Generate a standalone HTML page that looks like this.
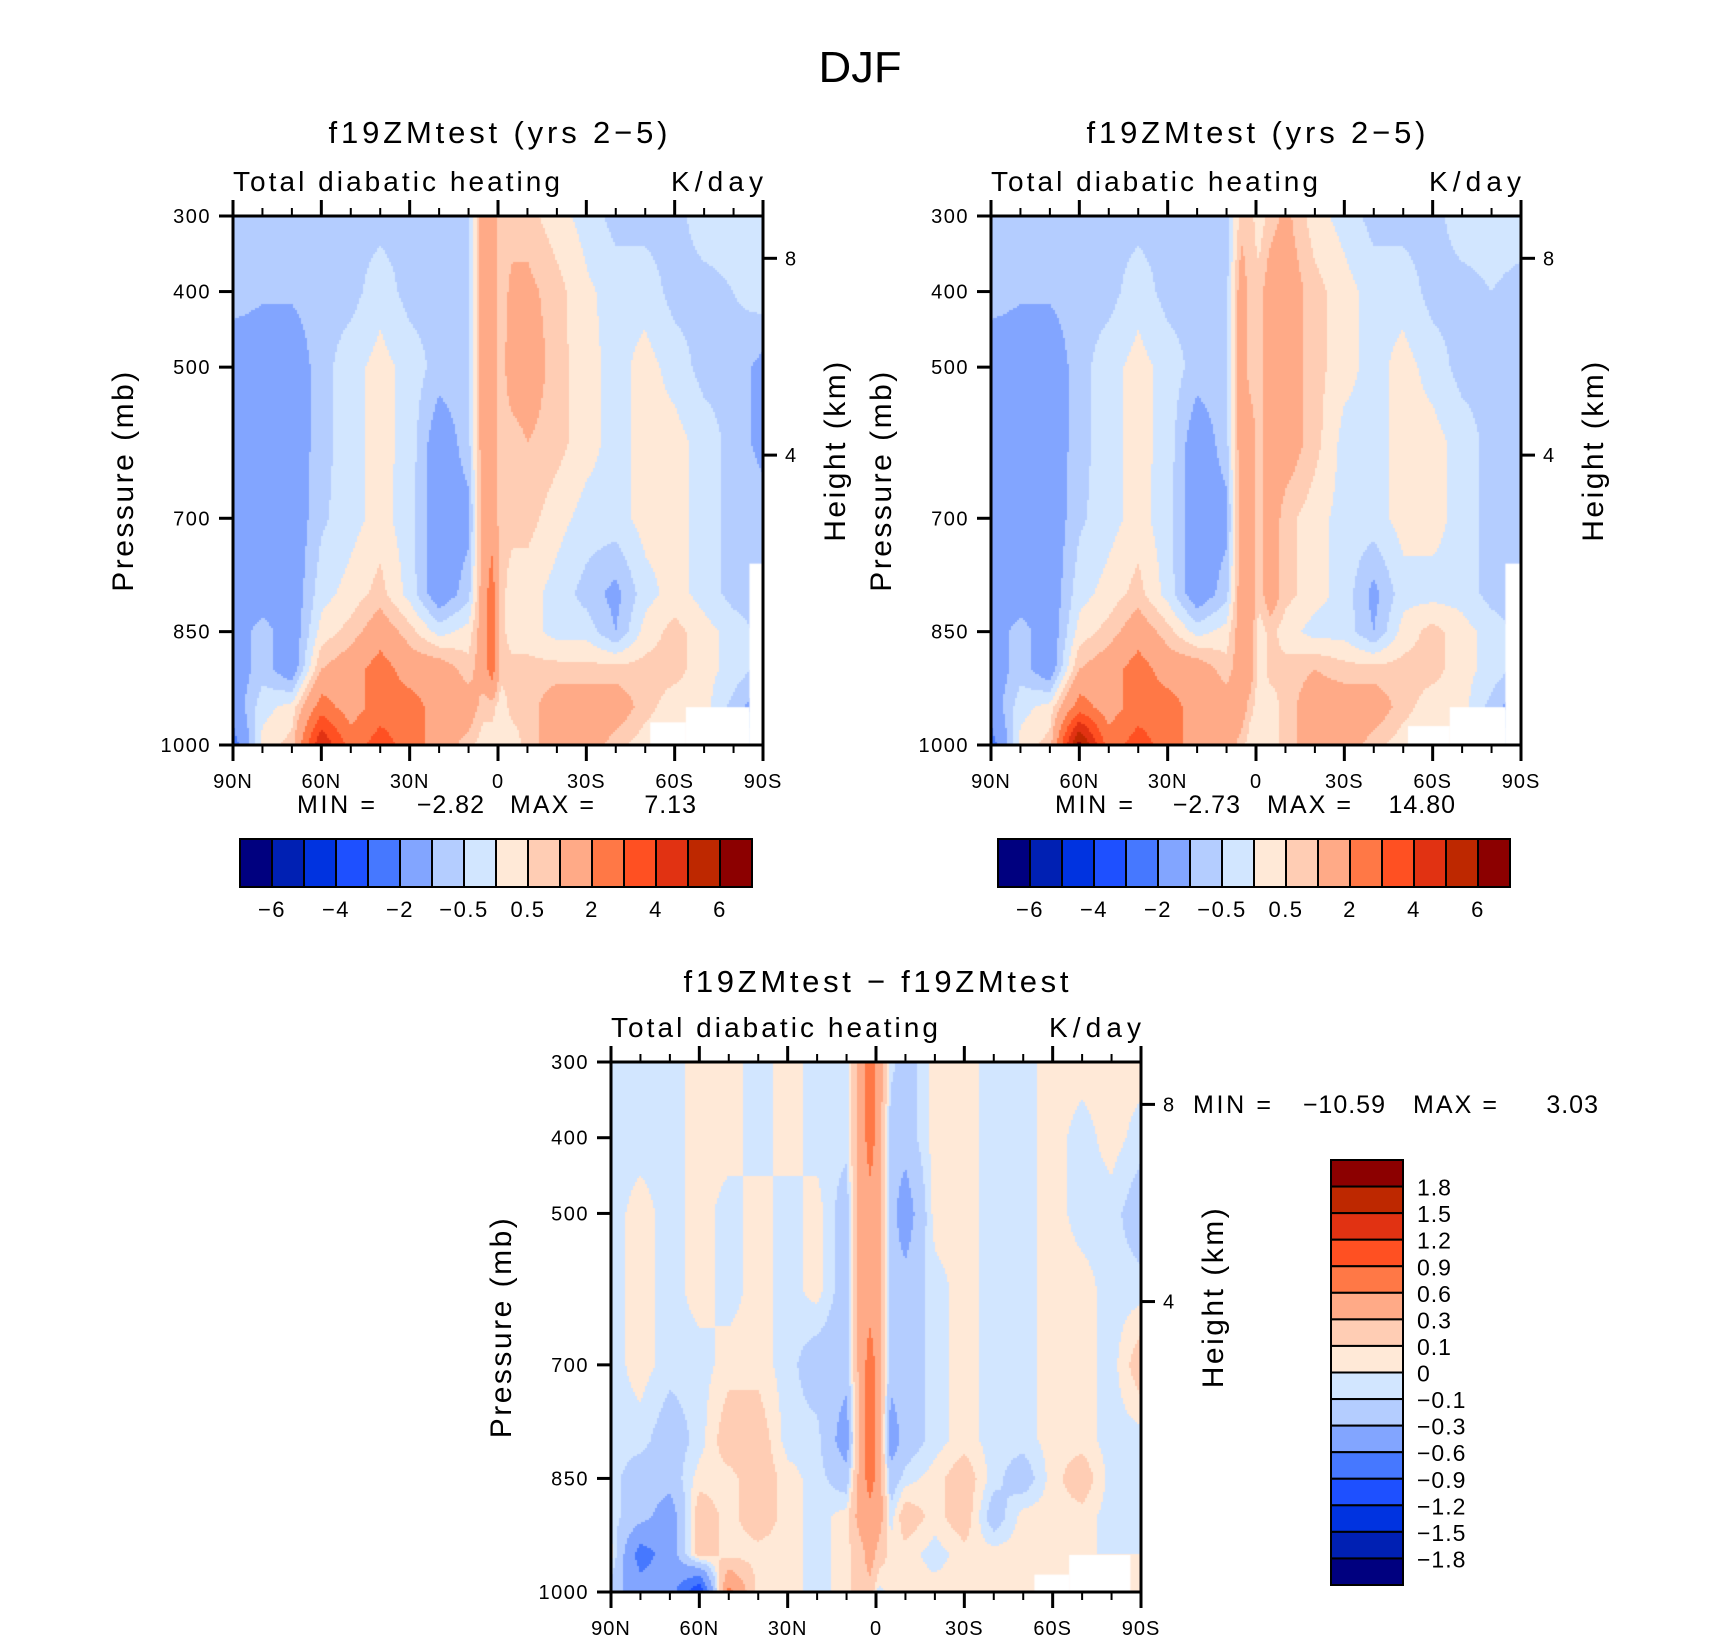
<!DOCTYPE html>
<html><head><meta charset="utf-8">
<style>
html,body{margin:0;padding:0;background:#fff;}
#wrap{position:relative;width:1710px;height:1636px;overflow:hidden;background:#fff;}
canvas{position:absolute;}
svg{position:absolute;left:0;top:0;}
text{font-family:"Liberation Sans",sans-serif;fill:#000;}
</style></head>
<body>
<div id="wrap">
<canvas id="c1"></canvas>
<canvas id="c2"></canvas>
<canvas id="c3"></canvas>
<svg id="svg" width="1710" height="1636" viewBox="0 0 1710 1636"></svg>
</div>
<script>
// ---- data ----
const LATS=[90,80,70,60,50,40,30,20,10,5,2,-1,-5,-10,-20,-30,-40,-50,-60,-70,-80,-90];
const LEVS=[300,400,500,600,700,800,850,900,950,1000];
const FIELD1=[
[-.7,-.7,-.7,-.7,-.7,-.7,-.7,-.7,-.7,1.5,1.5,.7,.7,.7,.2,-.2,-.7,-.7,-.7,-.2,-.2,-.2],
[-.7,-.9,-.9,-.7,-.7,-.2,-.7,-.7,-.7,1.5,1.5,.7,1.2,1.2,.7,.1,-.2,-.2,-.7,-.7,-.5,-.2],
[-1.5,-1.5,-1.5,-.7,-.2,.2,-.2,-.7,-.7,1.5,1.5,.7,1.5,1.5,.7,.2,-.2,.2,-.2,-.7,-.7,-1.2],
[-1.5,-1.5,-1.5,-.7,-.2,.2,-.2,-1.5,-.7,1.5,1.5,.7,.7,1.0,.7,.2,-.2,.2,.2,-.2,-.7,-1.2],
[-1.5,-1.5,-1.5,-.6,-.2,.2,-.3,-1.5,-1.2,1.5,1.5,.7,.7,.7,.2,-.2,-.2,.2,.2,-.2,-.7,-.7],
[-1.5,-1.5,-1.5,-.2,.2,.7,-.2,-1.5,-.7,1.5,2.5,.7,.2,.2,-.2,-.7,-1.2,-.2,.2,-.2,-.7,-.7],
[-1.5,-.7,-1.5,.2,.7,1.5,.7,-.2,.2,1.5,2.5,.7,.2,.2,-.2,-.2,-1.0,.2,.7,.2,-.2,-.7],
[-1.5,-.7,-1.5,1.0,1.5,2.5,1.5,1.5,.7,1.5,2.5,.7,.7,.7,.7,.7,.7,.7,.7,.2,-.2,-.7],
[-1.5,-.2,.2,2.5,1.5,2.5,2.5,1.5,1.5,.7,.7,.2,.7,.7,1.5,1.5,1.5,.7,.2,.2,-.7,-1.5],
[-2.5,.2,.7,5.0,2.5,3.5,2.5,1.5,.7,.2,.2,.2,.2,.7,1.5,1.5,.7,.2,0,0,0,0]];
const FIELD2=[
[-.7,-.7,-.7,-.7,-.7,-.7,-.7,-.7,-.7,.7,.7,.2,.7,1.2,.2,-.2,-.7,-.7,-.7,-.2,-.2,-.2],
[-.7,-.9,-.9,-.7,-.7,-.2,-.7,-.7,-.7,1.5,.7,.7,1.5,1.5,.7,.2,-.2,-.2,-.7,-.7,-.5,-.7],
[-1.5,-1.5,-1.5,-.7,-.2,.2,-.2,-.7,-.7,1.5,.7,.7,1.5,1.5,.7,.2,-.2,.2,-.2,-.7,-.7,-.7],
[-1.5,-1.5,-1.5,-.7,-.2,.2,-.2,-1.5,-.7,1.5,1.5,.7,1.5,1.5,.7,-.2,-.2,.2,.2,-.2,-.7,-1.0],
[-1.5,-1.5,-1.5,-.6,-.2,.2,-.3,-1.5,-1.2,1.5,1.5,.7,1.5,.7,.2,-.2,-.2,.2,.2,-.2,-.7,-.7],
[-1.5,-1.5,-1.5,-.2,.2,.7,-.2,-1.5,-.7,1.5,1.5,.7,1.5,.7,.2,-.2,-1.2,-.2,-.2,-.2,-.7,-.7],
[-1.5,-.7,-1.5,.2,.7,1.5,.7,-.2,.2,1.5,1.5,.2,.7,.2,-.2,-.2,-1.0,.2,.7,.2,-.2,-.7],
[-1.5,-.7,-1.5,1.0,1.5,2.5,1.5,1.5,.7,1.5,1.5,.2,.7,.7,1.0,.7,.7,.7,.7,.2,-.2,-.7],
[-1.5,-.2,.2,2.5,1.5,2.5,2.5,1.5,1.5,1.5,.7,.2,.2,.7,1.5,1.5,1.5,.7,.2,.2,-.7,-1.5],
[-2.5,.2,.7,6.5,2.5,3.5,2.5,1.5,1.5,.7,.2,.2,.2,.7,1.5,1.5,.7,.2,0,0,0,0]];
const FIELD3=[
[-.05,-.05,-.05,.05,.05,-.05,.05,-.05,-.05,.45,.75,.45,-.05,-.2,.05,.05,-.05,-.05,.05,.05,.05,.05],
[-.05,-.05,-.05,.05,.05,-.05,.05,-.05,-.05,.45,.75,.45,-.2,-.2,.05,.05,-.05,-.05,.05,-.05,.05,-.05],
[-.05,.05,-.05,.05,-.05,.05,-.05,.05,-.2,.45,.45,.45,-.2,-.45,.05,.05,-.05,-.05,.05,-.05,-.05,-.2],
[-.05,.05,-.05,.05,-.05,.05,-.05,.05,-.2,.45,.45,.45,-.2,-.2,-.05,.05,-.05,-.05,.05,.05,-.05,-.05],
[-.05,.05,-.05,-.05,.05,.05,-.05,-.2,-.2,.45,.75,.45,-.2,-.2,-.05,.05,-.05,-.05,.05,.05,-.05,.2],
[-.05,-.05,-.2,-.05,.2,.2,-.05,-.05,-.45,.45,.75,.45,-.45,-.2,-.05,.05,-.05,-.05,.05,.05,-.05,-.05],
[-.05,-.2,-.2,.05,.05,.2,.05,-.05,-.2,.45,.75,.45,-.2,-.05,.05,.2,-.05,-.2,.05,.2,-.05,-.05],
[-.05,-.2,-.45,.2,.05,.2,.05,-.05,.05,.45,.45,.45,-.05,.2,.05,.2,-.2,.05,.05,.05,-.05,-.05],
[.05,-.75,-.45,.2,.05,.05,.05,-.05,.05,.2,.45,.2,.05,.05,-.05,.05,.05,.05,0,0,0,0],
[-.2,-.45,-.45,-1.2,.7,.05,.05,-.05,.05,.2,.2,-.05,.05,.05,.05,.05,.05,.05,0,0,0,0]];
const BOUNDS1=[-6,-5,-4,-3,-2,-1,-0.5,0,0.5,1,2,3,4,5,6];
const BOUNDS3=[-1.8,-1.5,-1.2,-0.9,-0.6,-0.3,-0.1,0,0.1,0.3,0.6,0.9,1.2,1.5,1.8];
const CB1_LABELS=['−6','−4','−2','−0.5','0.5','2','4','6'];
const CB3_LABELS=['1.8','1.5','1.2','0.9','0.6','0.3','0.1','0','−0.1','−0.3','−0.6','−0.9','−1.2','−1.5','−1.8'];
const LAT_TICKS=[90,60,30,0,-30,-60,-90];
const LAT_LABELS=['90N','60N','30N','0','30S','60S','90S'];
const P_TICKS=[300,400,500,700,850,1000];
const Z_TICKS=[8,4];
const COLORS=['#00007f','#0020b3','#0033e0','#1e50ff','#4678ff','#82a5ff','#b4cdff','#d2e6ff','#ffe9d7','#ffcdb4','#ffaa87','#ff7846','#ff5022','#e13212','#be2800','#8c0000'];

const svg=document.getElementById('svg');
const NS='http://www.w3.org/2000/svg';
function mk(tag,attrs,txt){const e=document.createElementNS(NS,tag);for(const k in attrs)e.setAttribute(k,attrs[k]);if(txt!==undefined)e.textContent=txt;svg.appendChild(e);return e;}

function makeScales(P){
  return {x:lat=>P.x0+(90-lat)/180*P.w, y:p=>P.y0+(p-300)/700*P.h};
}
function interp(F,lat,p){
  let i=0;while(i<LATS.length-2&&lat<LATS[i+1])i++;
  let j=0;while(j<LEVS.length-2&&p>LEVS[j+1])j++;
  const tx=(LATS[i]-lat)/(LATS[i]-LATS[i+1]);
  const ty=(p-LEVS[j])/(LEVS[j+1]-LEVS[j]);
  const a=F[j][i],b=F[j][i+1],c=F[j+1][i],d=F[j+1][i+1];
  return (a*(1-tx)+b*tx)*(1-ty)+(c*(1-tx)+d*tx)*ty;
}
function cls(v,B){let k=0;while(k<B.length&&v>=B[k])k++;return k;}
function stdHeightToP(z){return 1013.25*Math.pow(1-0.0065*z*1000/288.15,5.2559);}

function drawField(cid,P,F,B,masks){
  const c=document.getElementById(cid);
  c.width=P.w;c.height=P.h;c.style.left=P.x0+'px';c.style.top=P.y0+'px';
  const ctx=c.getContext('2d');
  const s=2;
  for(let py=0;py<P.h;py+=s){for(let px=0;px<P.w;px+=s){
    const lat=90-(px+s/2)/P.w*180;const p=300+(py+s/2)/P.h*700;
    ctx.fillStyle=COLORS[cls(interp(F,lat,p),B)];ctx.fillRect(px,py,s,s);
  }}
  ctx.fillStyle='#fff';
  const S=makeScales({x0:0,y0:0,w:P.w,h:P.h});
  masks.forEach(m=>{ctx.fillRect(S.x(m[0]),S.y(m[2]),S.x(m[1])-S.x(m[0]),S.y(m[3])-S.y(m[2]));});
}
function txt(x,y,s,size,anchor,name,extra){
  const t=mk('text',Object.assign({x:x,y:y,'font-size':size,'text-anchor':anchor||'start'},extra||{}),s);
  
  
  return t;
}
function drawAxes(P,pre){
  const S=makeScales(P);
  const fr=mk('rect',{x:P.x0,y:P.y0,width:P.w,height:P.h,fill:'none',stroke:'#000','stroke-width':3});
  
  
  for(let lat=90;lat>=-90;lat-=10){
    const major=lat%30===0;const x=S.x(lat);const L=major?16:8;
    const t1=mk('line',{x1:x,y1:P.y0,x2:x,y2:P.y0-L,stroke:'#000','stroke-width':major?3:2});
    
    
    const t2=mk('line',{x1:x,y1:P.y0+P.h,x2:x,y2:P.y0+P.h+L,stroke:'#000','stroke-width':major?3:2});
    
    
  }
  LAT_TICKS.forEach((lat,i)=>{txt(S.x(lat),P.y0+P.h+43,LAT_LABELS[i],20,'middle',pre+'-x-tick-label',{'letter-spacing':'1'});});
  P_TICKS.forEach(p=>{
    const y=S.y(p);
    const t=mk('line',{x1:P.x0,y1:y,x2:P.x0-14,y2:y,stroke:'#000','stroke-width':3});
    
    
    txt(P.x0-22,y+7,String(p),20,'end',pre+'-y-tick-label',{'letter-spacing':'1.5'});
  });
  Z_TICKS.forEach(z=>{
    const y=S.y(stdHeightToP(z));
    const t=mk('line',{x1:P.x0+P.w,y1:y,x2:P.x0+P.w+14,y2:y,stroke:'#000','stroke-width':3});
    
    
    txt(P.x0+P.w+22,y+7,String(z),20,'start',pre+'-height-tick-label');
  });
  txt(0,0,'Pressure (mb)',30,'middle',pre+'-y-axis-title',{transform:'translate('+(P.x0-100)+','+(P.y0+P.h/2)+') rotate(-90)','letter-spacing':'2.5'});
  txt(0,0,'Height (km)',30,'middle',pre+'-height-axis-title',{transform:'translate('+(P.x0+P.w+82)+','+(P.y0+P.h/2-30)+') rotate(-90)','letter-spacing':'2.5'});
  txt(P.x0,P.y0-25,'Total diabatic heating',28,'start',pre+'-left-string',{textLength:327,lengthAdjust:'spacing'});
  txt(P.x0+P.w,P.y0-25,'K/day',28,'end',pre+'-units',{textLength:92,lengthAdjust:'spacing'});
}

const P1={x0:233,y0:216,w:530,h:529};
const P2={x0:991,y0:216,w:530,h:529};
const P3={x0:611,y0:1062,w:530,h:530};

drawField('c1',P1,FIELD1,BOUNDS1,[[-51.7,-63.8,970,1000],[-63.8,-85.4,950,1000],[-85.4,-90,760,1000]]);
drawField('c2',P2,FIELD2,BOUNDS1,[[-51.6,-65.8,975,1000],[-65.8,-84.7,950,1000],[-84.7,-90,760,1000]]);
drawField('c3',P3,FIELD3,BOUNDS3,[[-53.8,-65.6,977,1000],[-65.6,-86.4,951,1000]]);

drawAxes(P1,'panel-1');drawAxes(P2,'panel-2');drawAxes(P3,'panel-diff');

txt(860,82,'DJF',44,'middle','figure-title',{textLength:83,lengthAdjust:'spacingAndGlyphs'});
txt(498,143,'f19ZMtest (yrs 2−5)',31,'middle','panel-1-title',{textLength:339,lengthAdjust:'spacing'});
txt(1256,143,'f19ZMtest (yrs 2−5)',31,'middle','panel-2-title',{textLength:339,lengthAdjust:'spacing'});
txt(876,992,'f19ZMtest − f19ZMtest',31,'middle','diff-title',{textLength:385,lengthAdjust:'spacing'});

function minmax(x,y,vals,pre){
  txt(x[0],y,'MIN =',25,'start',pre+'-min-label',{textLength:78,lengthAdjust:'spacing'});
  txt(x[1],y,vals[0],25,'end',pre+'-min-value',{'letter-spacing':'1'});
  txt(x[2],y,'MAX =',25,'start',pre+'-max-label',{textLength:84,lengthAdjust:'spacing'});
  txt(x[3],y,vals[1],25,'end',pre+'-max-value',{'letter-spacing':'1'});
}
minmax([297,485,510,697],813,['−2.82','7.13'],'panel-1');
minmax([1055,1241,1267,1456],813,['−2.73','14.80'],'panel-2');
minmax([1193,1386,1413,1599],1113,['−10.59','3.03'],'diff');

function hbar(x0,y0,w,h,pre){
  const bw=w/COLORS.length;
  COLORS.forEach((c,i)=>{
    const r=mk('rect',{x:x0+i*bw,y:y0,width:bw,height:h,fill:c,stroke:'#000','stroke-width':2});
    
    
  });
  CB1_LABELS.forEach((l,k)=>{txt(x0+(2*k+1)*bw,y0+h+30,l,22,'middle',pre+'-colorbar-label',{'letter-spacing':'1.5'});});
}
hbar(240,839,512,48,'panel-1');
hbar(998,839,512,48,'panel-2');
(function(){
  const x0=1331,y0=1160,w=72,h=425;const bh=h/COLORS.length;
  for(let i=0;i<COLORS.length;i++){
    const r=mk('rect',{x:x0,y:y0+i*bh,width:w,height:bh,fill:COLORS[COLORS.length-1-i],stroke:'#000','stroke-width':2});
    
    
  }
  CB3_LABELS.forEach((l,k)=>{txt(x0+w+14,y0+(k+1)*bh+9,l,23,'start','diff-colorbar-label',{'letter-spacing':'1'});});
})();
</script>
</body></html>
